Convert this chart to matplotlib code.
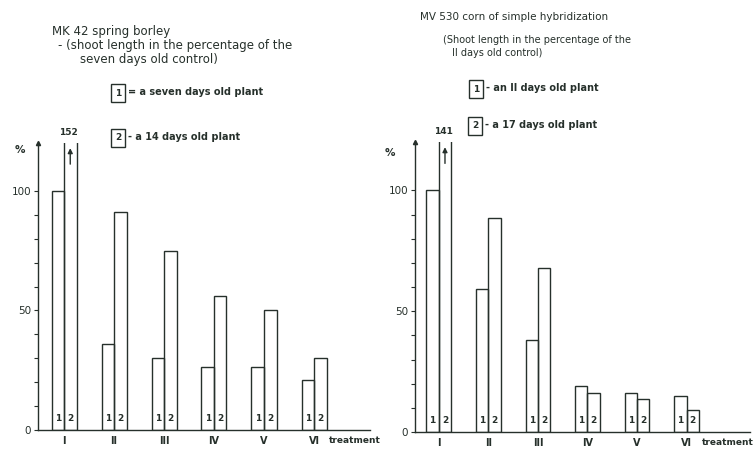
import matplotlib
matplotlib.use('Agg')
import matplotlib.pyplot as plt

# shoot length in % of control, plant age 1 and 2
treatments = ['I', 'II', 'III', 'IV', 'V', 'VI']
barley_age1 = [100, 36, 30, 26.5, 26.5, 21]
barley_age2 = [152, 91, 75, 56, 50, 30]
corn_age1 = [100, 59, 38, 19, 16, 15]
corn_age2 = [141, 88.5, 68, 16, 13.5, 9]

W, H = 755, 454
INK = '#26302b'
plt.rcParams['font.family'] = ['DejaVu Sans']

fig = plt.figure(figsize=(W / 100, H / 100), dpi=100)


def px(x, y):
    # pixel position (from top-left) -> figure fraction
    return x / W, 1 - y / H


def draw_panel(rect, age1, age2, xlim, big_label, treat_x):
    ax = fig.add_axes(rect)
    ax.set_xlim(*xlim)
    ax.set_ylim(0, 120)
    pos = list(range(len(treatments)))
    w = 0.25
    ax.bar([p - w / 2 for p in pos], age1, width=w, fill=False,
           edgecolor=INK, linewidth=1.0)
    ax.bar([p + w / 2 for p in pos], age2, width=w, fill=False,
           edgecolor=INK, linewidth=1.0)
    for p in pos:
        ax.text(p - w / 2, 3, '1', ha='center', va='bottom', fontsize=6.5,
                color=INK, fontweight='bold')
        ax.text(p + w / 2, 3, '2', ha='center', va='bottom', fontsize=6.5,
                color=INK, fontweight='bold')
    # arrow and value for the bar that runs off the top
    ax.annotate('', xy=(w / 2, 119), xytext=(w / 2, 110),
                arrowprops=dict(arrowstyle='-|>', color=INK, lw=1.0,
                                mutation_scale=7))
    ax.text(w / 2 - 0.04, 122.5, str(big_label), ha='center', va='bottom',
            fontsize=6.5, color=INK, fontweight='bold', clip_on=False)
    for s in ['top', 'right']:
        ax.spines[s].set_visible(False)
    for s in ['left', 'bottom']:
        ax.spines[s].set_color(INK)
        ax.spines[s].set_linewidth(1.0)
    ax.set_yticks(range(0, 101, 10))
    ax.set_yticklabels(['0', '', '', '', '', '50', '', '', '', '', '100'],
                       fontsize=7.5, color=INK)
    ax.tick_params(axis='y', length=3, width=0.8, color=INK, pad=2)
    ax.set_xticks(pos)
    ax.set_xticklabels(treatments, fontsize=7, color=INK, fontweight='bold')
    ax.tick_params(axis='x', length=0, pad=4)
    ax.text(treat_x, -2.6, 'treatment', ha='left', va='top', fontsize=6.5,
            color=INK, fontweight='bold', clip_on=False)
    ax.plot([xlim[0]], [120], marker='^', color=INK, markersize=3,
            clip_on=False)
    return ax


# left: barley
draw_panel([38 / W, 24 / H, 332 / W, 287 / H], barley_age1, barley_age2,
           (-0.52, 6.12), 152, 5.3)
# right: corn
draw_panel([415 / W, 22 / H, 335 / W, 290 / H], corn_age1, corn_age2,
           (-0.48, 6.28), 141, 5.3)

# titles and legends
fig.text(*px(52, 32), 'MK 42 spring borley', fontsize=8.5, color=INK, va='center')
fig.text(*px(58, 46), '- (shoot length in the percentage of the',
         fontsize=8.5, color=INK, va='center')
fig.text(*px(80, 60), 'seven days old control)', fontsize=8.5, color=INK,
         va='center')
fig.text(*px(420, 17), 'MV 530 corn of simple hybridization', fontsize=7.5,
         color=INK, va='center')
fig.text(*px(443, 40), '(Shoot length in the percentage of the', fontsize=7,
         color=INK, va='center')
fig.text(*px(452, 53), 'II days old control)', fontsize=7, color=INK,
         va='center')

legend_items = [
    (112, 93, '1', '= a seven days old plant'),
    (112, 138, '2', '- a 14 days old plant'),
    (470, 89, '1', '- an II days old plant'),
    (469, 126, '2', '- a 17 days old plant'),
]
for x, y, num, label in legend_items:
    fig.text(*px(x + 6, y), num, fontsize=6.5, color=INK, ha='center',
             va='center', fontweight='bold',
             bbox=dict(boxstyle='square,pad=0.45', fc='white', ec=INK, lw=1.0))
    fig.text(*px(x + 16, y - 1), label, fontsize=7, color=INK, va='center',
             fontweight='bold')

fig.text(*px(20, 150), '%', fontsize=7.5, color=INK, ha='center',
         va='center', fontweight='bold')
fig.text(*px(390, 153), '%', fontsize=7.5, color=INK, ha='center',
         va='center', fontweight='bold')

fig.savefig('out.png', dpi=100, facecolor='white')
